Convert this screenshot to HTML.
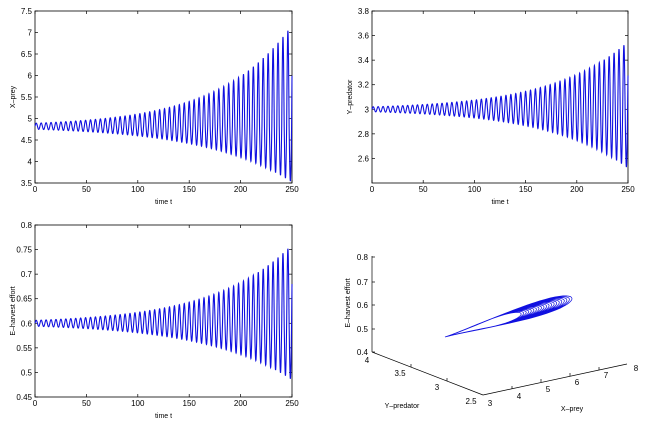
<!DOCTYPE html>
<html><head><meta charset="utf-8"><style>
body{margin:0;background:#fff;width:661px;height:423px;overflow:hidden}
svg{display:block;font-family:"Liberation Sans",sans-serif}
text{font-size:8px;fill:#000}
</style></head><body>
<svg id="s" width="661" height="423" viewBox="0 0 661 423"></svg>
<script>
const S=document.getElementById('s');let h='';
function plot(x0,x1,y0,y1,ymin,ymax,ticks,fmt,c,au,al,ylab){
 const W=x1-x0,H=y1-y0;const X=t=>x0+t/250*W,Y=v=>y1-(v-ymin)/(ymax-ymin)*H;
 h+=`<rect x="${x0}" y="${y0}" width="${W}" height="${H}" fill="none" stroke="#000" stroke-width="0.8"/>`;
 for(let t=0;t<=250;t+=50){const x=X(t);h+=`<line x1="${x}" y1="${y1}" x2="${x}" y2="${y1-3}" stroke="#000" stroke-width=".7"/><line x1="${x}" y1="${y0}" x2="${x}" y2="${y0+3}" stroke="#000" stroke-width=".7"/><text x="${x}" y="${y1+9}" text-anchor="middle">${t}</text>`;}
 ticks.forEach(v=>{const y=Y(v);h+=`<line x1="${x0}" y1="${y}" x2="${x0+3}" y2="${y}" stroke="#000" stroke-width=".7"/><line x1="${x1}" y1="${y}" x2="${x1-3}" y2="${y}" stroke="#000" stroke-width=".7"/><text x="${x0-3}" y="${y+3}" text-anchor="end">${fmt(v)}</text>`;});
 h+=`<text x="${(x0+x1)/2}" y="${y1+21}" text-anchor="middle" style="font-size:7px">time t</text>`;
 h+=`<text transform="translate(${x0-20},${(y0+y1)/2}) rotate(-90)" text-anchor="middle" style="font-size:7px">${ylab}</text>`;
 const k=Math.log(au[1]/au[0])/250,kl=Math.log(al[1]/al[0])/250;let d='';
 for(let t=0;t<=250;t+=0.1){const s=Math.sin(2*Math.PI*t/4.8);const v=s>0?c+au[0]*Math.exp(k*t)*s:c+al[0]*Math.exp(kl*t)*s;d+=(t?'L':'M')+X(t).toFixed(2)+' '+Y(v).toFixed(2);}
 h+=`<path d="${d}" fill="none" stroke="#1010e0" stroke-width="1.1"/>`;
}
plot(35,292,11,183,3.5,7.5,[3.5,4,4.5,5,5.5,6,6.5,7,7.5],v=>v,4.82,[0.07,2.35],[0.07,1.3],'X–prey');
plot(372,628,11,183,2.4,3.8,[2.6,2.8,3,3.2,3.4,3.6,3.8],v=>v.toFixed(1).replace('.0',''),3.0,[0.02,0.55],[0.02,0.48],'Y–predator');
plot(35,292,225,397,0.45,0.8,[0.45,0.5,0.55,0.6,0.65,0.7,0.75,0.8],v=>+v.toFixed(2),0.6,[0.006,0.16],[0.006,0.115],'E–harvest effort');
// 3D
h+=`<g stroke="#000" stroke-width=".7" fill="none"><line x1="372" y1="256" x2="372" y2="352"/><line x1="372" y1="352" x2="483" y2="395"/><line x1="483" y1="395" x2="627" y2="364"/></g>`;
[[0.8,257],[0.7,282],[0.6,305],[0.5,329],[0.4,352]].forEach(([v,y])=>{h+=`<line x1="372" y1="${y}" x2="375" y2="${y}" stroke="#000" stroke-width=".7"/><text x="368" y="${y+3}" text-anchor="end">${v}</text>`});
[['4',367,363],['3.5',400,376],['3',437,390],['2.5',471,404]].forEach(([t,x,y])=>h+=`<text x="${x}" y="${y}" text-anchor="middle">${t}</text>`);
[['3',490,406],['4',519,399],['5',548,392],['6',577,385],['7',606,378],['8',636,371]].forEach(([t,x,y])=>h+=`<text x="${x}" y="${y}" text-anchor="middle">${t}</text>`);
[[411,367],[447,381],[512,389],[541,382],[570,376],[599,370]].forEach(([x,y])=>h+=`<line x1="${x}" y1="${y}" x2="${x}" y2="${y-3}" stroke="#000" stroke-width=".7"/>`);
h+=`<text transform="translate(350,303) rotate(-90)" text-anchor="middle" style="font-size:7px">E–harvest effort</text>`;
h+=`<text x="402" y="408" text-anchor="middle" style="font-size:7px">Y–predator</text>`;
h+=`<text x="572" y="411" text-anchor="middle" style="font-size:7px">X–prey</text>`;
let d='';const Ax=445,Ay=337;
for(let i=0;i<=20;i++){const a=0.6+0.4*i/20;const L=132*a,w=11*a;const ux=0.962,uy=-0.272,px=0.1,py=0.995;
 for(let j=0;j<=60;j++){const th=2*Math.PI*j/60;const f=(1-Math.cos(th))/2;const u=f*L,v=-Math.sin(th)*w*f;
 const x=Ax+ux*u+px*v,y=Ay+uy*u+py*v-u*0.02;d+=(d?'L':'M')+x.toFixed(1)+' '+y.toFixed(1);}}
h+=`<path d="${d}" fill="none" stroke="#1010e0" stroke-width=".7"/>`;
S.innerHTML=h;
</script>
</body></html>
